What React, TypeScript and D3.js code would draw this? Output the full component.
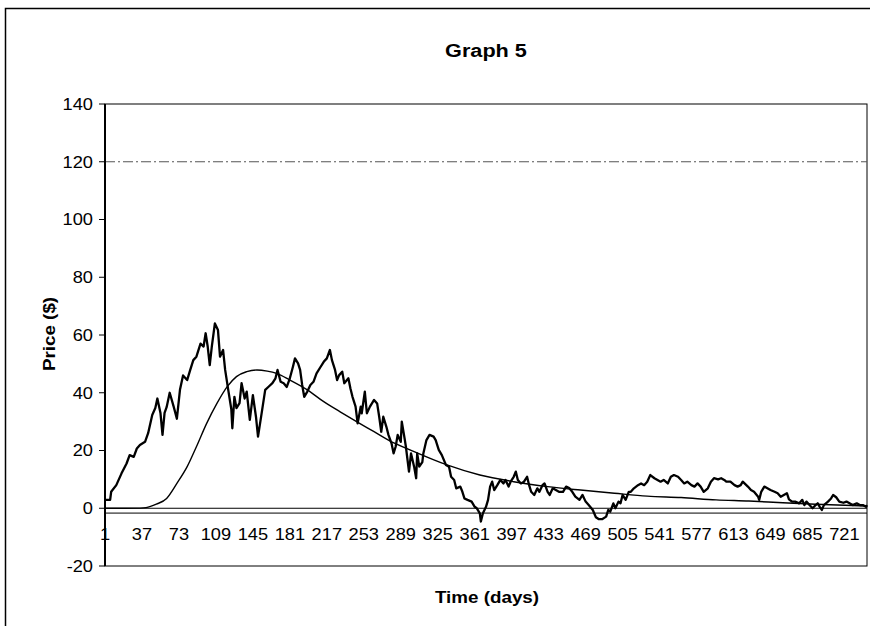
import React from "react";
import * as d3 from "d3";

// ---- data ----
const priceDays = [1, 6, 7, 12, 17, 22, 25, 29, 32, 35, 40, 43, 47, 50, 52, 55, 57, 59, 61, 64, 68, 71, 74, 77, 81, 84, 87, 90, 94, 97, 99, 101, 103, 105, 108, 111, 113, 116, 118, 121, 124, 125, 127, 129, 132, 134, 137, 139, 142, 145, 148, 150, 154, 157, 160, 164, 167, 169, 172, 175, 178, 181, 184, 186, 189, 191, 193, 195, 198, 201, 204, 207, 211, 214, 217, 220, 222, 225, 227, 229, 232, 234, 238, 240, 242, 245, 247, 250, 251, 254, 256, 259, 263, 266, 268, 270, 272, 275, 277, 280, 282, 284, 286, 289, 290, 293, 294, 297, 299, 302, 304, 305, 307, 310, 311, 314, 317, 321, 323, 326, 329, 333, 336, 338, 341, 343, 347, 349, 351, 354, 358, 361, 363, 366, 367, 369, 372, 374, 376, 378, 380, 383, 386, 389, 391, 394, 396, 399, 401, 403, 406, 409, 412, 414, 416, 419, 422, 424, 427, 429, 432, 434, 437, 440, 443, 447, 450, 453, 456, 459, 463, 466, 469, 472, 476, 479, 482, 485, 489, 491, 493, 496, 498, 501, 503, 505, 508, 511, 513, 516, 520, 523, 526, 529, 532, 536, 539, 542, 545, 549, 552, 555, 559, 562, 565, 568, 572, 575, 578, 581, 584, 588, 591, 594, 598, 601, 604, 606, 610, 614, 617, 620, 622, 627, 630, 633, 637, 638, 640, 643, 646, 649, 653, 656, 659, 662, 665, 667, 670, 673, 677, 680, 682, 684, 687, 690, 693, 695, 697, 699, 701, 705, 708, 710, 713, 716, 720, 723, 726, 729, 733, 736, 739, 742, 743];
const priceValues = [2.9, 2.9, 5.7, 8, 12, 15.5, 18.4, 17.8, 20.7, 21.9, 23, 26, 32.3, 34.7, 38, 33, 25.4, 33, 35, 40, 35, 31, 41, 46, 44.4, 47.9, 51.3, 52.5, 57, 56, 60.6, 56, 49.6, 56, 64, 61.7, 52.5, 54.8, 47.9, 41, 34.3, 27.7, 38.6, 34.7, 36.4, 43.3, 38, 40.4, 30.6, 39.2, 31.7, 24.8, 34, 41, 42, 43.3, 45, 47.9, 43.8, 43.3, 42, 45, 49, 51.9, 50.2, 47.9, 42.7, 38.6, 40.4, 42.7, 43.8, 46.7, 49, 50.7, 51.9, 54.8, 51.3, 47.9, 44.4, 46.1, 47.3, 43.3, 45, 41.5, 38.6, 35.2, 29.4, 35.2, 32.9, 40.4, 32.9, 35.2, 37.5, 36.3, 31.7, 26.5, 31.7, 28.2, 25.4, 22.5, 19, 21.3, 25.4, 23, 30, 23.6, 21.3, 12.7, 19, 14.4, 10.4, 19, 14.4, 16, 19, 23.6, 25.4, 24.8, 23.6, 20.2, 18.4, 15, 14.4, 10.9, 9.8, 6.9, 7.5, 5.7, 3.4, 2.9, 2.3, 0.5, 0, -1.8, -4.6, -1.7, 0.5, 2.9, 7.5, 9.2, 6.3, 8, 9.8, 8.6, 9.8, 7.5, 9.2, 10.9, 12.7, 9.8, 8.6, 9.2, 10.9, 8, 5.7, 4.6, 6.9, 5.7, 8, 8.6, 5.7, 4.6, 6.9, 6.3, 5.7, 5.7, 7.5, 7, 5.7, 4, 2.9, 4.6, 2.3, 1.1, -0.6, -3.1, -3.8, -3.8, -2.9, -0.6, -1.2, 1.7, 0, 2.3, 1.7, 4.6, 2.9, 5.7, 5.7, 6.9, 8, 8.6, 8, 9.2, 11.5, 10.4, 9.8, 9.2, 9.8, 8.6, 10.9, 11.5, 10.9, 9.8, 8.6, 9.2, 8, 7.5, 8.6, 7.5, 5.7, 6.9, 9.2, 10.4, 10, 10.4, 9.8, 9.2, 9.2, 8, 7.5, 8, 9.2, 7.5, 6.3, 5.7, 4, 2.9, 5.7, 7.5, 6.9, 6.3, 5.7, 5.2, 4, 4.6, 5.2, 3.1, 2.3, 2.3, 1.7, 2.9, 1.1, 2.3, 1.1, 0, 1.1, 1.7, 0.5, -0.6, 1.1, 2.3, 3.4, 4.6, 3.8, 2.3, 1.9, 2.3, 1.7, 1.1, 1.7, 1.1, 1.1, 0.5, 1.1];

const trendDays = [1, 20, 35, 41, 51, 61, 71, 81, 90, 100, 110, 120, 129, 139, 149, 159, 168, 181, 198, 214, 230, 246, 263, 277, 302, 334, 366, 399, 432, 464, 497, 529, 562, 596, 628, 661, 693, 743];
const trendValues = [0, 0, 0.05, 0.2, 1.4, 3.4, 8.6, 14.4, 21.3, 29.4, 36.3, 42.1, 45.6, 47.3, 47.9, 47.5, 46.7, 44.4, 41, 36.9, 33.4, 30, 26.5, 23.6, 19.6, 15, 11.5, 9.2, 7.5, 6.3, 5.2, 4.2, 3.7, 2.9, 2.5, 1.9, 1.4, 0.8];

const upperLevel = [120];
const lowerLevel = [-1.5];
const yTicks = [-20, 0, 20, 40, 60, 80, 100, 120, 140];
const xTickLabels = [1, 37, 73, 109, 145, 181, 217, 253, 289, 325, 361, 397, 433, 469, 505, 541, 577, 613, 649, 685, 721];
const dayDomain = [1, 743];

const FONT = "Arial, 'Liberation Sans', Helvetica, sans-serif";
const SX = 1.14; // horizontal stretch of the scanned text

function T(props: {
  x: number;
  y: number;
  anchor?: "start" | "middle" | "end";
  size: number;
  bold?: boolean;
  rotate?: number;
  dy?: string;
  children: React.ReactNode;
}) {
  const { x, y, anchor = "middle", size, bold, rotate = 0, dy, children } = props;
  const tr = rotate
    ? `translate(${x},${y}) rotate(${rotate}) scale(${SX},1)`
    : `translate(${x},${y}) scale(${SX},1)`;
  return (
    <text transform={tr} textAnchor={anchor} fontSize={size} fontWeight={bold ? "bold" : "normal"} dy={dy} fill="#000">
      {children}
    </text>
  );
}

export default function App() {
  const W = 870;
  const H = 626;
  const left = 105;
  const right = 867;
  const top = 104;
  const bottom = 566;

  const x = d3.scaleLinear().domain(dayDomain).range([left, right]);
  const y = d3.scaleLinear().domain([-20, 140]).range([bottom, top]);

  const priceLine = d3
    .line<number>()
    .x((_, i) => x(priceDays[i]))
    .y((v) => y(v))(priceValues);

  const trendLine = d3
    .line<number>()
    .x((_, i) => x(trendDays[i]))
    .y((v) => y(v))
    .curve(d3.curveMonotoneX)(trendValues);

  return (
    <svg
      width={W}
      height={H}
      style={{ position: "fixed", left: 0, top: 0, background: "#fff" }}
      fontFamily={FONT}
    >
      <rect x={0} y={0} width={W} height={H} fill="#fff" />
      {/* outer chart frame */}
      <rect x={5.5} y={8.5} width={960} height={720} fill="none" stroke="#000" strokeWidth={1.5} />

      {/* title */}
      <T x={486} y={57} size={19} bold>
        Graph 5
      </T>

      {/* plot area border */}
      <rect x={left} y={top} width={right - left} height={bottom - top} fill="none" stroke="#000" strokeWidth={1} />

      {/* upper level dash-dot */}
      {upperLevel.map((v, i) => (
        <line key={"u" + i} x1={left} x2={right} y1={y(v)} y2={y(v)} stroke="#555" strokeWidth={1} strokeDasharray="10,3,2,3" />
      ))}

      {/* lower level line */}
      {lowerLevel.map((v, i) => (
        <line key={"l" + i} x1={left} x2={right} y1={y(v) + 0.5} y2={y(v) + 0.5} stroke="#000" strokeWidth={1} />
      ))}

      {/* category axis at zero */}
      <line x1={left} x2={right} y1={y(0)} y2={y(0)} stroke="#000" strokeWidth={1} />

      {/* trend curve */}
      <path d={trendLine || ""} fill="none" stroke="#000" strokeWidth={1.4} />

      {/* price path */}
      <path d={priceLine || ""} fill="none" stroke="#000" strokeWidth={2.3} strokeLinejoin="round" />

      {/* y axis */}
      <line x1={left} x2={left} y1={top} y2={bottom} stroke="#000" strokeWidth={2} />
      {yTicks.map((t) => (
        <g key={"yt" + t}>
          <line x1={left - 6} x2={left} y1={y(t)} y2={y(t)} stroke="#000" strokeWidth={1} />
          <T x={93} y={y(t)} anchor="end" size={16} dy="0.36em">
            {t}
          </T>
        </g>
      ))}

      {/* x labels */}
      {xTickLabels.map((d) => (
        <T key={"xt" + d} x={x(d)} y={540} size={16}>
          {d}
        </T>
      ))}

      {/* axis titles */}
      <T x={487} y={603} size={16.5} bold>
        Time (days)
      </T>
      <T x={49} y={334} size={16.5} bold rotate={-90} dy="0.36em">
        Price ($)
      </T>
    </svg>
  );
}
